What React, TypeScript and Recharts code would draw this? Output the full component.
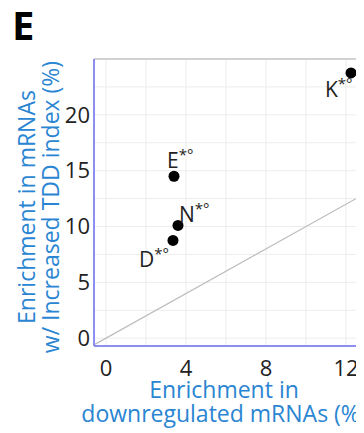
import React from 'react';
import { ScatterChart, Scatter, XAxis, YAxis, CartesianGrid, ReferenceLine, Label } from 'recharts';

const aminoAcids = ['K', 'E', 'N', 'D'];
const downregulatedEnrichment = [12.25, 3.4, 3.6, 3.35];
const tddEnrichment = [23.75, 14.5, 10.1, 8.75];
const labelSuffix = '*°';

const xTicks = [0, 2, 4, 6, 8, 10, 12];
const yTicks = [0, 2.5, 5, 7.5, 10, 12.5, 15, 17.5, 20, 22.5];
const xShownTicks = [0, 4, 8, 12];
const yShownTicks = [0, 5, 10, 15, 20];
const xDomain: [number, number] = [-0.6, 12.9];
const yDomain: [number, number] = [-0.7, 25];

const panelLetter = 'E';
const xTitle = ['Enrichment in', 'downregulated mRNAs (%)'];
const yTitle = ['Enrichment in mRNAs', 'w/ Increased TDD index (%)'];

const FONT = "'Open Sans', sans-serif";
const BLUE = '#2a85d2';
const AXIS = '#8c8ef2';

const labelOffsets: Record<string, { dx: number; dy: number }> = {
  K: { dx: -26, dy: 24 },
  E: { dx: -7, dy: -8 },
  N: { dx: 1, dy: -3 },
  D: { dx: -34, dy: 27 },
};

const data = aminoAcids.map((name, i) => ({
  name,
  x: downregulatedEnrichment[i],
  y: tddEnrichment[i],
}));

const PointShape = (props: any) => {
  const { cx, cy, payload } = props;
  const off = labelOffsets[payload.name] || { dx: 0, dy: 0 };
  return (
    <g>
      <circle cx={cx} cy={cy} r={5.5} fill="#000" />
      <text x={cx + off.dx} y={cy + off.dy} fontFamily={FONT} fontSize={21} fill="#222">
        {payload.name}
        <tspan fontSize={15} dy={-8}>{labelSuffix}</tspan>
      </text>
    </g>
  );
};

const XTitle = (props: any) => {
  const vb = props.viewBox;
  const cx = vb.x + 130;
  return (
    <g>
      <text x={cx} y={vb.y + 52} textAnchor="middle" fontFamily={FONT} fontSize={23} fill={BLUE}>{xTitle[0]}</text>
      <text x={cx} y={vb.y + 76} textAnchor="middle" fontFamily={FONT} fontSize={23} fill={BLUE}>{xTitle[1]}</text>
    </g>
  );
};

const YTitle = (props: any) => {
  const cy = 199;
  return (
    <g>
      <text x={4} y={32} fontFamily={FONT} fontWeight="bold" fontSize={40} fill="#000">{panelLetter}</text>
      <text transform={`translate(27, ${cy}) rotate(-90)`} textAnchor="middle" fontFamily={FONT} fontSize={23} fill={BLUE}>{yTitle[0]}</text>
      <text transform={`translate(51, ${cy}) rotate(-90)`} textAnchor="middle" fontFamily={FONT} fontSize={23} fill={BLUE}>{yTitle[1]}</text>
    </g>
  );
};

export default function App() {
  return (
    <ScatterChart width={356} height={425} margin={{ top: 51, right: 0, bottom: 0, left: 0 }}>
      <CartesianGrid stroke="#ededed" strokeDasharray="" />
      <XAxis
        type="number"
        dataKey="x"
        domain={xDomain}
        ticks={xTicks}
        allowDataOverflow
        height={87}
        tickLine={false}
        tickSize={0}
        tickMargin={14}
        tickFormatter={(v: number) => (xShownTicks.includes(v) ? String(v) : '')}
        tick={{ fontFamily: FONT, fontSize: 22, fill: '#222' }}
        axisLine={{ stroke: AXIS, strokeWidth: 2 }}
      >
        <Label content={<XTitle />} />
      </XAxis>
      <YAxis
        type="number"
        dataKey="y"
        domain={yDomain}
        ticks={yTicks}
        allowDataOverflow
        width={86}
        tickLine={false}
        tickSize={0}
        tickMargin={4}
        tickFormatter={(v: number) => (yShownTicks.includes(v) ? String(v) : '')}
        tick={{ fontFamily: FONT, fontSize: 22, fill: '#222' }}
        axisLine={{ stroke: AXIS, strokeWidth: 2 }}
      >
        <Label content={<YTitle />} />
      </YAxis>
      <ReferenceLine y={yDomain[1]} stroke="#c4c4c4" strokeWidth={1.5} />
      <ReferenceLine
        segment={[{ x: xDomain[0], y: xDomain[0] }, { x: xDomain[1], y: xDomain[1] }]}
        stroke="#bdbdbd"
        strokeWidth={1.2}
        ifOverflow="visible"
      />
      <Scatter data={data} shape={<PointShape />} isAnimationActive={false} />
    </ScatterChart>
  );
}
